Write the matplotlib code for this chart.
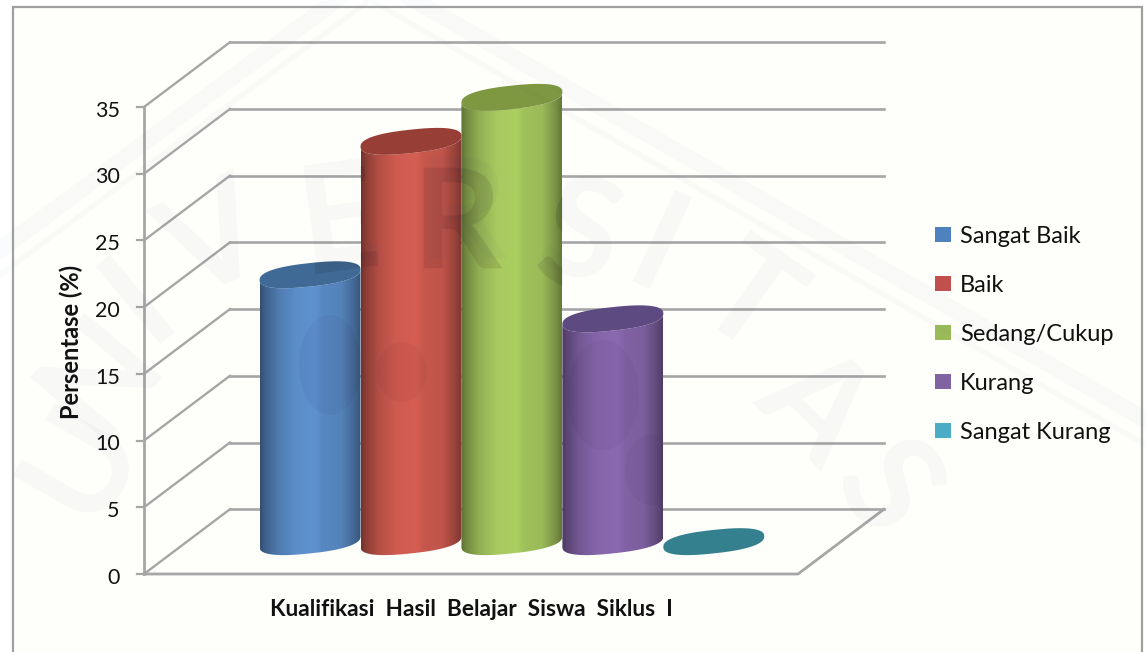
import numpy as np
import matplotlib
matplotlib.use('Agg')
import matplotlib.pyplot as plt
from matplotlib.font_manager import FontProperties
from matplotlib.patches import Ellipse, Patch, PathPatch, Polygon, Rectangle
from matplotlib.textpath import TextPath
from matplotlib.transforms import Affine2D, IdentityTransform

# values
series = ['Sangat Baik', 'Baik', 'Sedang/Cukup', 'Kurang', 'Sangat Kurang']
values = [20, 30, 33.3, 16.7, 0]
category = 'Kualifikasi  Hasil  Belajar  Siswa  Siklus  I'
y_ticks = [0, 5, 10, 15, 20, 25, 30, 35]

body_colors = ['#5b8dc9', '#cf5b50', '#a7c95f', '#8666ab', '#4bacc6']
top_colors = ['#3f6a96', '#973f36', '#7d9840', '#5d4a80', '#35808f']
legend_colors = ['#4f81bd', '#c0504d', '#9bbb59', '#8064a2', '#4bacc6']

W, H = 1146, 652
grid_color = '#a6a6a6'

plt.rcParams['font.family'] = ['Lato', 'DejaVu Sans']

fig = plt.figure(figsize=(W / 100, H / 100), dpi=100, facecolor='white')

# outer frame of the chart, cut off by the bottom of the page
fig.add_artist(Rectangle((12.5 / W, -0.05), (1142 - 12.5) / W, 1.05 - 7 / H, transform=fig.transFigure,
                         facecolor='#fefefb', edgecolor='#a0a0a0', lw=1.6, zorder=-5))

# front plane of the box: 143..798 px wide, 574..107 px high
ax = fig.add_axes([144 / W, 1 - 574 / H, (798 - 144) / W, (574 - 107) / H])
ax.set_xlim(-1.23, 5.25)
ax.set_ylim(0, 35)
ax.axis('off')
ax.patch.set_alpha(0)

# depth of the box in data units
depth_x = 0.851
depth_y = 4.85
x0, x1 = ax.get_xlim()

# walls
for t in y_ticks:
    ax.plot([x0 + depth_x, x1 + depth_x], [t + depth_y, t + depth_y], color=grid_color, lw=1.9, clip_on=False, zorder=1)
    ax.plot([x0, x0 + depth_x], [t, t + depth_y], color=grid_color, lw=1.7, clip_on=False, zorder=1)
    ax.plot([x0 - 0.07, x0], [t, t], color=grid_color, lw=1.6, clip_on=False, zorder=1)
    ax.text(x0 - 0.24, t - 0.28, str(t), ha='right', va='center', fontsize=15.5, color='#111111', clip_on=False)
ax.plot([x0, x0], [0, 35], color=grid_color, lw=2, clip_on=False, zorder=1)
ax.plot([x0, x1, x1 + depth_x], [0, 0, depth_y], color=grid_color, lw=2, clip_on=False, zorder=1)

# cylinders
half_w = 0.5
ell_h = 0.88
ell_s = 0.4
ell_p = 0.82
base = depth_y / 2
shade_pos = [0, 0.05, 0.18, 0.35, 0.55, 0.62, 0.8, 0.93, 1]
shade_val = [0.56, 0.68, 0.87, 1.0, 1.03, 0.96, 0.93, 0.74, 0.6]
t_low = np.linspace(np.pi, 2 * np.pi, 80)
t_all = np.linspace(0, 2 * np.pi, 160)


def ell_xy(t, cx, h):
    c = np.sign(np.cos(t)) * np.abs(np.cos(t)) ** ell_p
    s = np.sign(np.sin(t)) * np.abs(np.sin(t)) ** ell_p
    return cx + half_w * c, h + ell_h * s + ell_s * c


outlines = []
for i, v in enumerate(values):
    cx = i + depth_x / 2 - 0.01
    z = 3 + i
    if v > 0:
        low_x, low_y = ell_xy(t_low, cx, base)
        top_x, top_y = ell_xy(t_low[::-1], cx, base + v)
        pts = np.column_stack([np.r_[low_x, top_x], np.r_[low_y, top_y]])
        clip = Polygon(pts, closed=True, transform=ax.transData)
        u = np.linspace(0, 1, 256)
        shade = np.interp(u, shade_pos, shade_val)
        rgb = np.array(matplotlib.colors.to_rgb(body_colors[i]))
        grad = np.clip(shade[None, :, None] * rgb[None, None, :], 0, 1)
        im = ax.imshow(grad, extent=(cx - half_w, cx + half_w, base - 2, base + v + 2), aspect='auto',
                       interpolation='bilinear', zorder=z)
        im.set_clip_box(fig.bbox)
        im.set_clip_path(clip)
        # outline of the whole cylinder, for the watermark on top of it
        up_x, up_y = ell_xy(t_all[:80], cx, base + v)
        outlines.append(Polygon(np.column_stack([np.r_[low_x, up_x], np.r_[low_y, up_y]]), closed=True,
                                transform=ax.transData))
    ex, ey = ell_xy(t_all, cx, base + v)
    ax.fill(ex, ey, color=top_colors[i], lw=0, zorder=z + 0.5, clip_on=False)
ax.set_xlim(x0, x1)
ax.set_ylim(0, 35)

# axis titles
fig.text(471 / W, 1 - 609 / H, category, ha='center', va='center', fontsize=16.3, fontweight='bold', color='#111111')
fig.text(71 / W, 1 - 342 / H, 'Persentase (%)', ha='center', va='center', rotation=90, fontsize=17,
         fontweight='bold', color='#111111')

# legend
handles = [Patch(facecolor=c, edgecolor='none') for c in legend_colors]
fig.legend(handles, series, loc='upper left', bbox_to_anchor=(928 / W, 1 - 219 / H), frameon=False, fontsize=17,
           handlelength=0.68, handleheight=0.6, handletextpad=0.38, labelspacing=1.18, labelcolor='#111111',
           borderpad=0.3, borderaxespad=0)

# watermark: letters and diamond bands, stronger where it falls on a cylinder
letters = ['U', 'N', 'I', 'V', 'E', 'R', 'S', 'I', 'T', 'A', 'S']
lx = [82, 100, 140, 215, 340, 463, 580, 657, 747, 815, 885]
ly = [462, 375, 300, 245, 220, 218, 237, 253, 303, 407, 490]
lr = [60, 50, 40, 25, 8, 0, -15, -25, -35, -45, -55]
fp = FontProperties(family='Lato', weight='bold', size=139)
for ch, px, py, r in zip(letters, lx, ly, lr):
    fig.text(px / W, 1 - py / H, ch, ha='center', va='center', rotation=r, fontsize=100, fontweight='bold',
             color='#30406a', alpha=0.03, zorder=20)
    tp = TextPath((0, 0), ch, prop=fp)
    box = tp.get_extents()
    tr = Affine2D().translate(-(box.x0 + box.x1) / 2, -(box.y0 + box.y1) / 2).rotate_deg(r).translate(px, H - py)
    for outline in outlines:
        letter = PathPatch(tp, facecolor='#201018', edgecolor='none', alpha=0.11, zorder=21,
                           transform=tr + IdentityTransform())
        fig.add_artist(letter)
        letter.set_clip_path(outline)

# faint logo shapes on the cylinders
blobs = [(330, 365, 62, 100), (402, 372, 50, 60), (603, 395, 72, 110), (650, 470, 50, 70)]
for bx, by, bw, bh in blobs:
    for outline in outlines:
        blob = Ellipse((bx, H - by), bw, bh, facecolor='#200030', edgecolor='none', alpha=0.04, zorder=21,
                       transform=IdentityTransform())
        fig.add_artist(blob)
        blob.set_clip_path(outline)

for off, lw in [(0, 12), (25, 4)]:
    fig.add_artist(plt.Line2D([0, 370 / W, 1], [1 - (250 + off) / H, 1 - (-25 + off) / H, 1 - (420 + off) / H],
                              color='#30406a', alpha=0.02, lw=lw, zorder=19))

plt.savefig('out.png', dpi=100)
